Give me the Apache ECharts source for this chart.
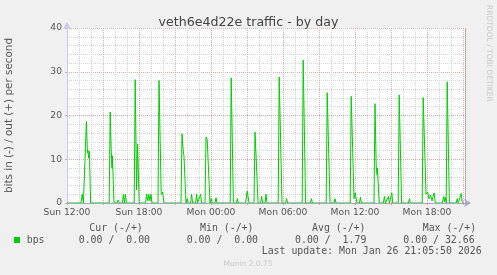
<!DOCTYPE html>
<html>
<head>
<meta charset="utf-8">
<script src="https://cdn.jsdelivr.net/npm/echarts@6/dist/echarts.min.js"></script>
<style>html,body{margin:0;padding:0;background:#f0f0f0}#c{width:497px;height:275px}</style>
</head>
<body>
<div id="c"></div>
<script>
// minutes since Sun 12:00
const minutes = [0,
70,76,82, 90,97,102,105,108,112,118,
211,216,221,225,227,235, 250,256,262, 277,282,287,292,297,
336,341,348,353,361, 393,398,404,409,415,420,425,
455,460,471,478,485, 570,575,581,585,595,
597,601,606,618,623,628,643,648,653,663,668,673,
690,695,701,715, 717,721,726,740,745,750,
816,821,832, 847,852,857, 893,901,910,
935,940,948,955, 968,973,978,990,995,1000,
1056,1061,1075, 1093,1098,1103,
1176,1181,1193, 1217,1222,1227,
1296,1301,1315, 1335,1340,1345,
1416,1421,1435,1441,1450, 1462,1467,1472,
1535,1540,1546,1550,1552,1561,
1582,1587,1592,1602,1607,1612,1619,1624,1629,
1656,1661,1673, 1707,1712,1717,
1776,1781,1795,1803,1810,1818,1825,1835,1842,
1877,1883,1887,1891,1896,1897,1901,1912,
1946,1951,1956,1966,1971,1976,1980];
const bps = [0,
0,2.0,0, 0,18.6,11.5,12,10.3,11.8,0,
0,20.8,12,8,10.8,0, 0,0.7,0, 0,2,0,2,0,
0,28.2,3,13.5,0, 0,2,0.5,2,0.5,2,0,
0,28,2,2.5,0, 0,15.8,12,10.6,0,
0,1,0,0,2,0,0,2,0,0,2,0,
0,15.1,14.5,0, 0,1,0,0,1.2,0,
0,28.6,0, 0,1,0, 0,2.7,0,
0,16.2,8,0, 0,1.5,0,0,2,0,
0,28.8,0, 0,1,0,
0,32.66,0, 0,1,0,
0,25.2,0, 0,1,0,
0,24.4,1,2.3,0, 0,1.3,0,
0,22.7,8.5,6.5,8,0,
0,1.5,0,0,1.5,0,0,2.3,0,
0,24.7,0, 0,1,0,
0,24.1,2,2.5,1,1.8,0.5,2.3,0,
0,1.5,0.3,1.3,0,0,27.7,0,
0,1,0,0,2.2,0.3,0];

const tickLabels = {0:'Sun 12:00',360:'Sun 18:00',720:'Mon 00:00',1080:'Mon 06:00',1440:'Mon 12:00',1800:'Mon 18:00'};
const yTicks = [0,10,20,30,40];

const legendHeaders = ['Cur (-/+)','Min (-/+)','Avg (-/+)','Max (-/+)'];
const legendValues = ['0.00 /  0.00','0.00 /  0.00','0.00 /  1.79','0.00 / 32.66'];
const lastUpdate = 'Last update: Mon Jan 26 21:05:50 2026';

const headerX = [89.3, 200, 312, 422.7];
const valueX = [78.7, 186.7, 295, 403.3];

const chart = echarts.init(document.getElementById('c'), null, {renderer:'canvas'});
const mono = 'DejaVu Sans Mono';
const sans = 'DejaVu Sans';
const txtCol = '#555';

const graphic = [];
legendHeaders.forEach((h,i)=>graphic.push({type:'text', x:headerX[i], y:228, style:{text:h, font:'9.9px "'+mono+'"', fill:txtCol, textAlign:'left', textVerticalAlign:'middle'}}));
legendValues.forEach((v,i)=>graphic.push({type:'text', x:valueX[i], y:240, style:{text:v, font:'9.9px "'+mono+'"', fill:txtCol, textAlign:'left', textVerticalAlign:'middle'}}));
graphic.push({type:'text', x:26.7, y:240, style:{text:'bps', font:'9.9px "'+mono+'"', fill:txtCol, textAlign:'left', textVerticalAlign:'middle'}});
graphic.push({type:'rect', shape:{x:14, y:237, width:6, height:6}, style:{fill:'#00cc00'}});
graphic.push({type:'text', x:261.7, y:251.5, style:{text:lastUpdate, font:'9.9px "'+mono+'"', fill:txtCol, textAlign:'left', textVerticalAlign:'middle'}});
graphic.push({type:'text', x:248, y:264, style:{text:'Munin 2.0.75', font:'7.5px "'+sans+'"', fill:'#c8c8c8', textAlign:'center', textVerticalAlign:'middle'}});
graphic.push({type:'text', x:489, y:5, rotation:-Math.PI/2, style:{text:'RRDTOOL / TOBI OETIKER', font:'7.5px "'+sans+'"', fill:'#c8c8c8', textAlign:'left', textVerticalAlign:'middle'}});
graphic.push({type:'line', shape:{x1:465.5, y1:28, x2:465.5, y2:203}, style:{stroke:'#a0a0a0', lineWidth:1}});

const option = {
  backgroundColor:'#f0f0f0',
  animation:false,
  title:{text:'veth6e4d22e traffic - by day', left:'center', top:11,
    textStyle:{fontFamily:sans, fontSize:12.6, fontWeight:'normal', color:'#444'}},
  grid:{left:67, right:32, top:28, bottom:72, show:true, backgroundColor:'#ffffff', borderWidth:0, containLabel:false, outerBoundsMode:'none'},
  xAxis:[{
    type:'value', min:0, max:1990, interval:180,
    axisLine:{show:false},
    axisTick:{show:true, length:2, lineStyle:{color:'#e0a0a0'}},
    axisLabel:{formatter:v=>tickLabels[v]!==undefined?tickLabels[v]:'', fontFamily:sans, fontSize:9.2, color:txtCol, margin:5, showMaxLabel:true},
    splitLine:{show:true, lineStyle:{color:'#e6aaaa', type:[1,1]}},
    minorTick:{show:false, splitNumber:3},
    minorSplitLine:{show:true, lineStyle:{color:'#d6d6d6', type:[1,1]}}
  },{
    type:'value', min:0, max:1990, position:'bottom', z:5,
    axisLine:{show:true, lineStyle:{color:'#a8a4c8', width:1}, symbol:['none','arrow'], symbolSize:[6,7], symbolOffset:[0,6]},
    axisTick:{show:false}, axisLabel:{show:false}, splitLine:{show:false}
  }],
  yAxis:{
    type:'value', min:0, max:40, interval:10,
    name:'bits in (-) / out (+) per second', nameLocation:'middle', nameGap:53,
    nameTextStyle:{fontFamily:sans, fontSize:10.4, color:txtCol},
    axisLine:{show:true, lineStyle:{color:'#c8c8f4'}, symbol:['none','arrow'], symbolSize:[6,7], symbolOffset:[0,6]},
    axisTick:{show:true, length:2, lineStyle:{color:'#e0a0a0'}},
    axisLabel:{fontFamily:sans, fontSize:9.2, color:txtCol, margin:5},
    splitLine:{show:true, lineStyle:{color:'#e6aaaa', type:[1,1]}},
    minorTick:{show:false, splitNumber:5},
    minorSplitLine:{show:true, lineStyle:{color:'#d6d6d6', type:[1,1]}}
  },
  series:[{
    type:'line', xAxisIndex:0, showSymbol:false, symbol:'none',
    lineStyle:{color:'#00cc00', width:1}, z:2,
    data:minutes.map((m,i)=>[m,bps[i]])
  }],
  graphic:graphic
};
chart.setOption(option);
</script>
</body>
</html>
